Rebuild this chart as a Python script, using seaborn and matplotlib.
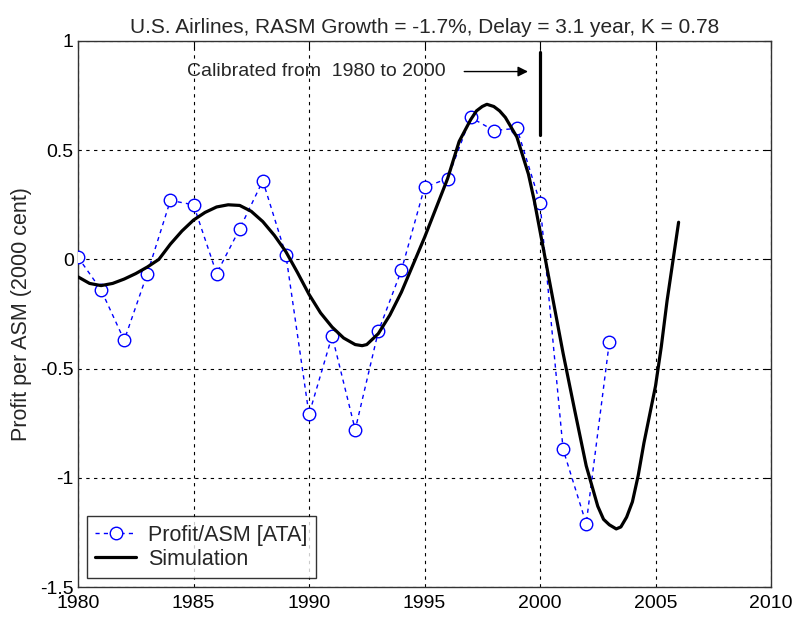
import numpy as np
import pandas as pd
import matplotlib
matplotlib.use("Agg")
import matplotlib.pyplot as plt
import seaborn as sns

# observed profit per ASM (ATA)
years = list(range(1980, 2004))
profit = [0.01, -0.14, -0.37, -0.065, 0.27, 0.25, -0.065, 0.14, 0.36, 0.02,
          -0.71, -0.35, -0.78, -0.33, -0.05, 0.33, 0.37, 0.65, 0.59, 0.60,
          0.26, -0.87, -1.21, -0.38]

# simulation curve
sim_years = [1980, 1980.5, 1981, 1981.5, 1982, 1982.5, 1983, 1983.5, 1984, 1984.5,
             1985, 1985.5, 1986, 1986.5, 1987, 1987.5, 1988, 1988.5, 1989, 1989.5,
             1990, 1990.5, 1991, 1991.5, 1992, 1992.3, 1992.5, 1993, 1993.5, 1994,
             1994.5, 1995, 1995.5, 1996, 1996.5, 1997, 1997.25, 1997.5, 1997.7, 1998,
             1998.25, 1998.5, 1999, 1999.5, 1999.75, 2000, 2000.25, 2000.5, 2001, 2001.5,
             2002, 2002.5, 2002.75, 2003, 2003.3, 2003.5, 2003.75, 2004, 2004.25, 2004.5,
             2005, 2005.25, 2005.5, 2005.75, 2006]
sim_vals = [-0.08, -0.11, -0.12, -0.11, -0.09, -0.065, -0.035, 0.0, 0.07, 0.13,
            0.18, 0.215, 0.24, 0.25, 0.247, 0.22, 0.173, 0.11, 0.035, -0.06,
            -0.16, -0.245, -0.31, -0.36, -0.39, -0.395, -0.39, -0.34, -0.255, -0.15,
            -0.025, 0.10, 0.235, 0.37, 0.54, 0.64, 0.68, 0.70, 0.71, 0.70,
            0.68, 0.65, 0.56, 0.39, 0.27, 0.13, -0.01, -0.15, -0.43, -0.69,
            -0.945, -1.13, -1.19, -1.215, -1.234, -1.225, -1.18, -1.11, -0.99, -0.84,
            -0.58, -0.40, -0.19, -0.01, 0.17]

title = "U.S. Airlines, RASM Growth = -1.7%, Delay = 3.1 year, K = 0.78"

sns.set_style("white")
plt.rcParams['font.family'] = ['Liberation Sans', 'DejaVu Sans']

fig = plt.figure(figsize=(7.96, 6.17), dpi=100)
ax = fig.add_axes([0.098, 0.0486, 0.8706, 0.885])

df_obs = pd.DataFrame({'year': years, 'profit': profit})
df_sim = pd.DataFrame({'year': sim_years, 'value': sim_vals})

sns.lineplot(data=df_obs, x='year', y='profit', ax=ax, color='blue', lw=1,
             linestyle=(0, (3, 3)), marker='o', markersize=9, markerfacecolor='white',
             markeredgecolor='blue', markeredgewidth=1, label='Profit/ASM [ATA]', zorder=3)
sns.lineplot(data=df_sim, x='year', y='value', ax=ax, color='black', lw=2.3,
             label='Simulation', zorder=4)

ax.set_xlim(1980, 2010)
ax.set_ylim(-1.5, 1)
ax.set_xticks(range(1980, 2011, 5))
ax.set_yticks([-1.5, -1, -0.5, 0, 0.5, 1])
ax.set_yticklabels(['-1.5', '-1', '-0.5', '0', '0.5', '1'])
ax.grid(True, color='black', linestyle=(0, (3, 4)), lw=0.8)
ax.tick_params(direction='in', length=5, labelsize=14, top=True, right=True,
               labeltop=False, labelright=False, colors='black')
ax.tick_params(axis='x', pad=6)
ax.tick_params(axis='y', pad=3)
for s in ax.spines.values():
    s.set_color('#333333')
    s.set_linewidth(1)

ax.set_xlabel('')
ax.set_ylabel('Profit per ASM (2000 cent)', fontsize=15.5, labelpad=6)
ax.set_title(title, fontsize=15, pad=6)

# calibration marker
ax.plot([2000, 2000], [0.57, 0.95], color='black', lw=2.3)
ax.annotate('', xy=(1999.6, 0.86), xytext=(1996.6, 0.86),
            arrowprops=dict(arrowstyle='-|>', color='black', lw=1, mutation_scale=15))
ax.text(1984.7, 0.86, 'Calibrated from  1980 to 2000', fontsize=14, va='center', ha='left')

leg = ax.legend(loc='lower left', fontsize=15.5, frameon=True, fancybox=False,
                borderaxespad=0.4, handlelength=1.9, handletextpad=0.55,
                borderpad=0.4, labelspacing=0.15)
leg.get_frame().set_edgecolor('black')
leg.get_frame().set_linewidth(1)

fig.savefig('out.png', dpi=100)
